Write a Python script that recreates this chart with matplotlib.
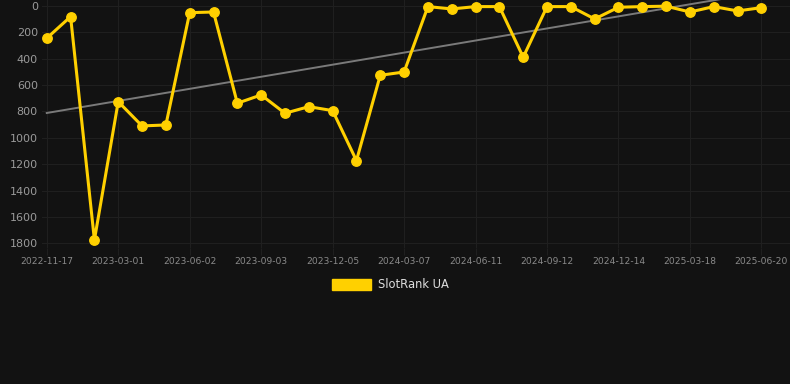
import numpy as np
import matplotlib
matplotlib.use("Agg")
import matplotlib.pyplot as plt
from matplotlib.patches import Patch

# --- data ---
dates = ['2022-11-17', '2023-03-01', '2023-06-02', '2023-09-03', '2023-12-05', '2024-03-07',
         '2024-06-11', '2024-09-12', '2024-12-14', '2025-03-18', '2025-06-20']
ranks = [245, 81, 1775, 726, 910, 903, 51, 46, 738, 675,
         814, 764, 794, 1173, 526, 501, 5, 23, 5, 5,
         389, 5, 5, 99, 10, 5, 2, 46, 5, 38, 13]
trend_start = 812
trend_end = -104
series_name = 'SlotRank UA'

BG = '#121212'
GRID = '#1f1f1f'
GOLD = '#FFD000'

fig = plt.figure(figsize=(7.9, 3.84), dpi=100, facecolor=BG)
ax = fig.add_axes([42 / 790, 1 - 248 / 384, 748 / 790, 248 / 384])
ax.set_facecolor(BG)

x = np.arange(len(ranks))
ax.plot([x[0], x[-1]], [trend_start, trend_end], color='#7a7a7a', linewidth=1.4, zorder=2)
ax.plot(x, ranks, color=GOLD, linewidth=2.2, marker='o', markersize=6.8, zorder=3)

ax.set_ylim(1836, -45)
ax.set_xlim(-0.2, 31.2)
ax.set_yticks(np.arange(0, 1801, 200))
ax.set_xticks(x[::3])
ax.set_xticklabels(dates)

ax.grid(True, color=GRID, linewidth=0.8)
ax.tick_params(axis='y', length=0, colors='#9a9a9a', labelsize=8, pad=3)
ax.tick_params(axis='x', length=5, color=GRID, labelcolor='#8a8a8a', labelsize=6.6, pad=1.5)
for s in ax.spines.values():
    s.set_visible(False)

fig.legend(handles=[Patch(facecolor=GOLD, edgecolor=GOLD)], labels=[series_name],
           loc='center', bbox_to_anchor=(390 / 790, 1 - 285 / 384), frameon=False,
           handlelength=3.4, handleheight=1.0, fontsize=8.3, labelcolor='#dddddd',
           handletextpad=0.6)

fig.savefig('out.png', dpi=100, facecolor=BG)
